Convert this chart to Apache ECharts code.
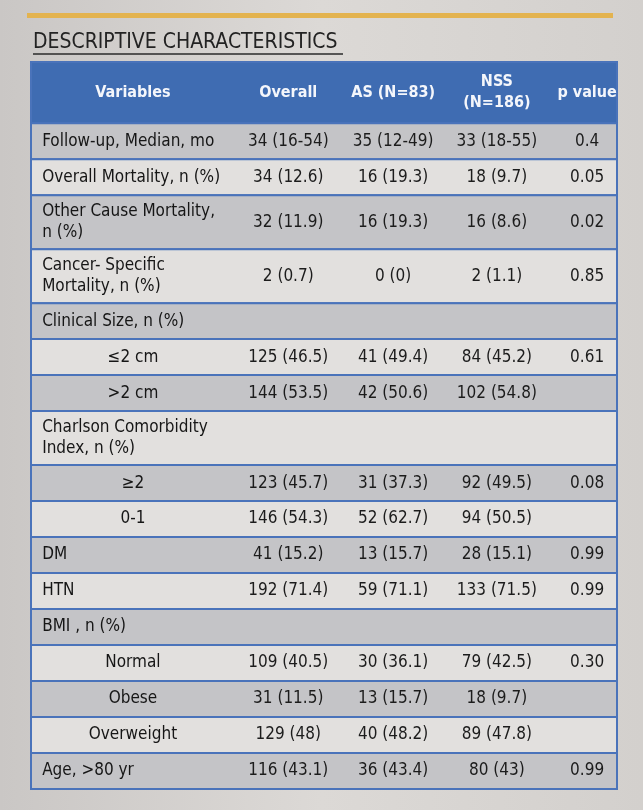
<!DOCTYPE html>
<html>
<head>
<meta charset="utf-8">
<script src="https://cdn.jsdelivr.net/npm/echarts@6/dist/echarts.min.js"></script>
<style>
  html, body { margin: 0; padding: 0; }
  #chart { width: 643px; height: 810px; }
</style>
</head>
<body>
<div id="chart"></div>
<script>
// DATA
var headers = ['Variables', 'Overall', 'AS (N=83)', 'NSS\n(N=186)', 'p value']
var variables = [
    'Follow-up, Median, mo', 'Overall Mortality, n (%)', 'Other Cause Mortality,\nn (%)',
    'Cancer- Specific\nMortality, n (%)', 'Clinical Size, n (%)', '≤2 cm', '>2 cm',
    'Charlson Comorbidity\nIndex, n (%)', '≥2', '0-1', 'DM', 'HTN', 'BMI , n (%)',
    'Normal', 'Obese', 'Overweight', 'Age, >80 yr'
]
var subLevel = [0, 0, 0, 0, 0, 1, 1, 0, 1, 1, 0, 0, 0, 1, 1, 1, 0]
var overall = ['34 (16-54)', '34 (12.6)', '32 (11.9)', '2 (0.7)', '', '125 (46.5)', '144 (53.5)', '',
    '123 (45.7)', '146 (54.3)', '41 (15.2)', '192 (71.4)', '', '109 (40.5)', '31 (11.5)', '129 (48)', '116 (43.1)']
var asGroup = ['35 (12-49)', '16 (19.3)', '16 (19.3)', '0 (0)', '', '41 (49.4)', '42 (50.6)', '',
    '31 (37.3)', '52 (62.7)', '13 (15.7)', '59 (71.1)', '', '30 (36.1)', '13 (15.7)', '40 (48.2)', '36 (43.4)']
var nssGroup = ['33 (18-55)', '18 (9.7)', '16 (8.6)', '2 (1.1)', '', '84 (45.2)', '102 (54.8)', '',
    '92 (49.5)', '94 (50.5)', '28 (15.1)', '133 (71.5)', '', '79 (42.5)', '18 (9.7)', '89 (47.8)', '80 (43)']
var pValue = ['0.4', '0.05', '0.02', '0.85', '', '0.61', '', '', '0.08', '', '0.99', '0.99', '', '0.30', '', '', '0.99']

// LAYOUT (x in % of table width, y in row units)
var colCenter = [17.4, 43.9, 61.8, 79.5, 94.9]
var varLeft = 1.9
var headerUnits = 1.7
var FONT = "'Liberation Sans Narrow', 'DejaVu Sans Condensed', sans-serif"

// build row extents from line counts
var rows = []
var y = 0
rows.push([y, y + headerUnits, -1])
y += headerUnits
variables.forEach(function (v, i) {
    var h = v.indexOf('\n') >= 0 ? 1.5 : 1
    rows.push([y, y + h, i])
    y += h
})
var totalUnits = y

function renderRow(params, api) {
    var y0 = api.value(0), y1 = api.value(1), idx = api.value(2)
    var tl = api.coord([0, y0])
    var br = api.coord([100, y1])
    var midY = (tl[1] + br[1]) / 2
    var children = []
    var isHeader = idx < 0
    var fill = isHeader ? '#3f6cb2' : (idx % 2 === 0 ? '#c4c4c7' : '#e2e0de')
    children.push({
        type: 'rect',
        shape: { x: tl[0], y: tl[1], width: br[0] - tl[0], height: br[1] - tl[1] },
        style: { fill: fill, stroke: '#4a73ba', lineWidth: 2 }
    })
    function txt(t, xPct, align, bold, color, size) {
        children.push({
            type: 'text',
            style: {
                text: t,
                x: api.coord([xPct, 0])[0],
                y: midY,
                align: align,
                verticalAlign: 'middle',
                font: (bold ? 'bold ' : '') + size + 'px ' + FONT,
                lineHeight: 21,
                fill: color
            }
        })
    }
    if (isHeader) {
        headers.forEach(function (h, c) { txt(h, colCenter[c], 'center', true, '#f4f6fb', 16) })
    } else {
        if (subLevel[idx]) txt(variables[idx], colCenter[0], 'center', false, '#161616', 17)
        else txt(variables[idx], varLeft, 'left', false, '#161616', 17)
        txt(overall[idx], colCenter[1], 'center', false, '#1c1c1c', 17)
        txt(asGroup[idx], colCenter[2], 'center', false, '#1c1c1c', 17)
        txt(nssGroup[idx], colCenter[3], 'center', false, '#1c1c1c', 17)
        txt(pValue[idx], colCenter[4], 'center', false, '#1c1c1c', 17)
    }
    return { type: 'group', children: children }
}

var chart = echarts.init(document.getElementById('chart'))
var option = {
    animation: false,
    backgroundColor: new echarts.graphic.LinearGradient(0, 0, 1, 0, [
        { offset: 0, color: '#cac7c5' },
        { offset: 0.5, color: '#dcd9d6' },
        { offset: 1, color: '#d3d0cd' }
    ]),
    title: {
        text: 'DESCRIPTIVE CHARACTERISTICS',
        left: 28, top: 27,
        textStyle: { fontFamily: FONT, fontSize: 21, fontWeight: 'normal', color: '#232323' }
    },
    graphic: [
        { type: 'rect', shape: { x: 27, y: 13, width: 586, height: 5 }, style: { fill: '#e3b34f' } },
        { type: 'line', shape: { x1: 33, y1: 54, x2: 343, y2: 54 }, style: { stroke: '#2a2a2a', lineWidth: 1.5 } }
    ],
    grid: { left: 31, right: 26, top: 62, bottom: 21 },
    xAxis: { type: 'value', min: 0, max: 100, show: false },
    yAxis: { type: 'value', min: 0, max: totalUnits, inverse: true, show: false },
    series: [{
        type: 'custom',
        renderItem: renderRow,
        encode: { y: [0, 1] },
        data: rows
    }]
}
chart.setOption(option)
</script>
</body>
</html>
